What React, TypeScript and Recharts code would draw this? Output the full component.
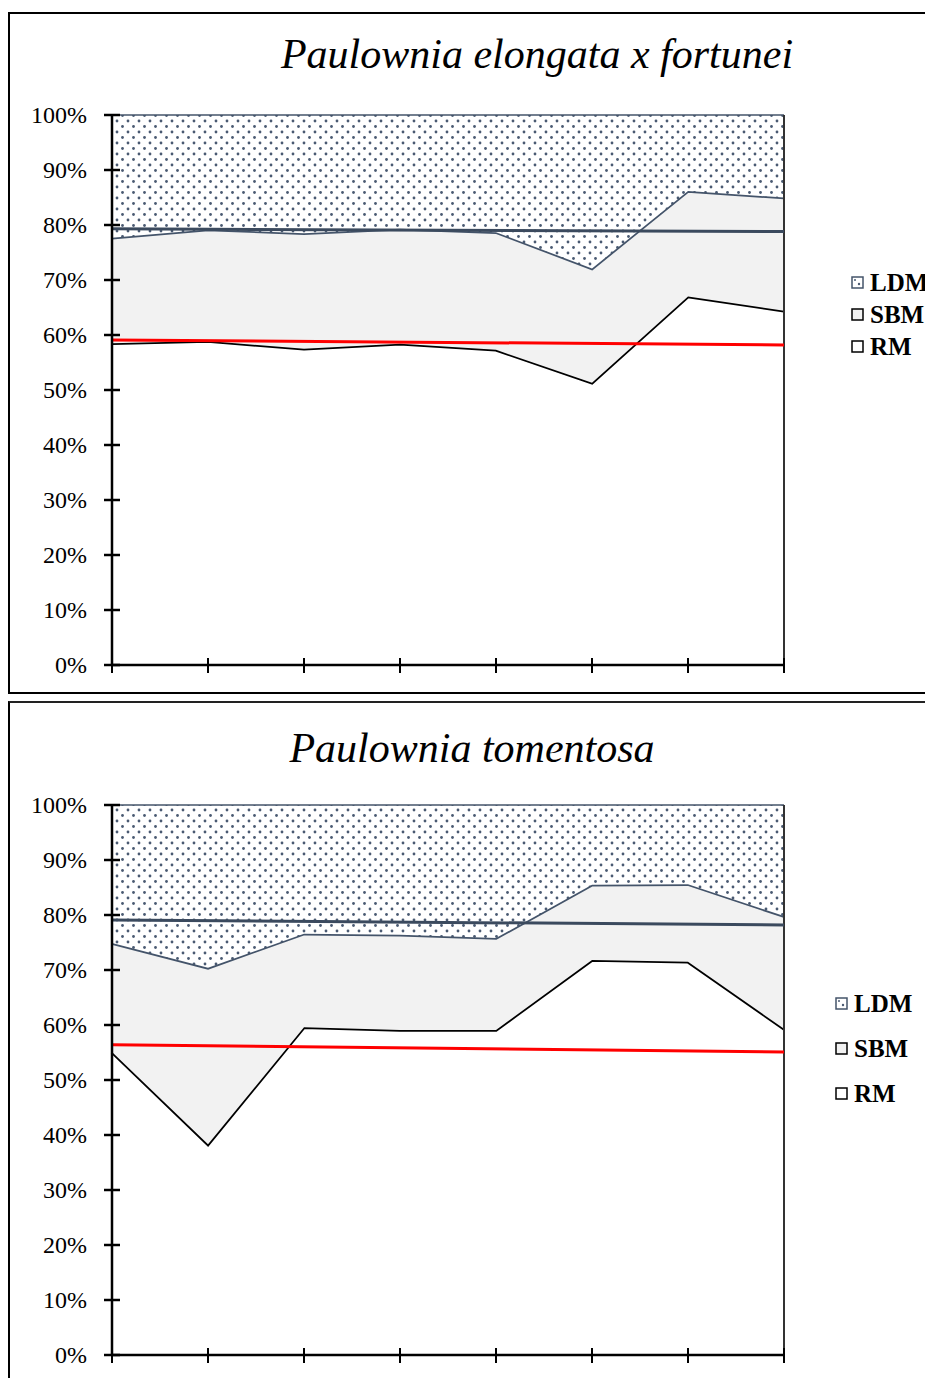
import { ComposedChart, Area, Line, XAxis, YAxis, ReferenceLine } from 'recharts';

// sample points along the x axis (no labels shown)
const points = ['1', '2', '3', '4', '5', '6', '7', '8'];
const yTicks = [0, 10, 20, 30, 40, 50, 60, 70, 80, 90, 100];

// Paulownia elongata x fortunei (% of total)
const elongataRM = [58.5, 58.9, 57.5, 58.4, 57.3, 51.3, 67.0, 64.4];
const elongataSBM = [19.2, 20.3, 21.0, 20.9, 21.4, 20.8, 19.2, 20.6];
const elongataLDM = [22.3, 20.8, 21.5, 20.7, 21.3, 27.9, 13.8, 15.0];
const elongataTrendTop = [79.3, null, null, null, null, null, null, 78.8];
const elongataTrendRM = [59.1, null, null, null, null, null, null, 58.2];

// Paulownia tomentosa (% of total)
const tomentosaRM = [55.1, 38.3, 59.6, 59.1, 59.1, 71.8, 71.5, 59.3];
const tomentosaSBM = [19.8, 32.1, 17.0, 17.3, 16.7, 13.7, 14.1, 20.5];
const tomentosaLDM = [25.1, 29.6, 23.4, 23.6, 24.2, 14.5, 14.4, 20.2];
const tomentosaTrendTop = [79.1, null, null, null, null, null, null, 78.2];
const tomentosaTrendRM = [56.4, null, null, null, null, null, null, 55.1];

const FONT = "'Liberation Serif', Tinos, 'Times New Roman', Times, serif";
const NAVY = '#44546a';

function buildRows(rm: number[], sbm: number[], ldm: number[], top: (number | null)[], low: (number | null)[]) {
    return points.map((p, i) => ({ name: p, RM: rm[i], SBM: sbm[i], LDM: ldm[i], trendTop: top[i], trendRM: low[i] }));
}

function YTick(props: any) {
    const { x, y, payload } = props;
    return (
        <g>
            <line x1={x - 8} x2={x + 8} y1={y} y2={y} stroke="#000" strokeWidth={2.5} />
            <text x={x - 25} y={y + 8} textAnchor="end" style={{ fontFamily: FONT }} fontSize={24} fill="#000">
                {payload.value}%
            </text>
        </g>
    );
}

function XTick(props: any) {
    const { x, y } = props;
    return <line x1={x} x2={x} y1={y - 7} y2={y + 8} stroke="#000" strokeWidth={2} />;
}

function DotPattern({ id }: { id: string }) {
    return (
        <pattern id={id} width={11} height={11} patternUnits="userSpaceOnUse">
            <rect width={11} height={11} fill="#fff" />
            <circle cx={2.5} cy={2.5} r={1.4} fill="#4a5a72" />
            <circle cx={8} cy={8} r={1.4} fill="#4a5a72" />
        </pattern>
    );
}

function Legend2({ left, top, gap, pid }: { left: number; top: number; gap: number; pid: string }) {
    const items = [
        { label: 'LDM', border: NAVY, fill: `url(#${pid}-leg)` },
        { label: 'SBM', border: '#000', fill: '#f2f2f2' },
        { label: 'RM', border: '#000', fill: '#fff' },
    ];
    return (
        <div style={{ position: 'absolute', left, top }}>
            {items.map((it, i) => (
                <div key={it.label} style={{ position: 'absolute', top: i * gap - 14, left: 0, display: 'flex', alignItems: 'center', height: 28, whiteSpace: 'nowrap' }}>
                    <svg width={13} height={13} style={{ marginRight: 6 }}>
                        <defs>
                            <pattern id={`${pid}-leg`} width={13} height={13} patternUnits="userSpaceOnUse">
                                <rect width={13} height={13} fill="#fff" />
                                <circle cx={4} cy={4} r={1} fill="#4a5a72" />
                                <circle cx={8} cy={8} r={1.2} fill="#4a5a72" />
                            </pattern>
                        </defs>
                        <rect x={1} y={1} width={11} height={11} fill={it.fill} stroke={it.border} strokeWidth={1.5} />
                    </svg>
                    <span style={{ fontFamily: FONT, fontWeight: 'bold', fontSize: 25, lineHeight: 1 }}>{it.label}</span>
                </div>
            ))}
        </div>
    );
}

type PanelProps = {
    title: string;
    rows: any[];
    pid: string;
    height: number;
    margin: { top: number; right: number; bottom: number; left: number };
    titleTop: number;
    titleCenter: number;
    legendLeft: number;
    legendTop: number;
    legendGap: number;
};

function Panel({ title, rows, pid, height, margin, titleTop, titleCenter, legendLeft, legendTop, legendGap }: PanelProps) {
    return (
        <>
            <div style={{ position: 'absolute', left: titleCenter - 400, width: 800, top: titleTop, textAlign: 'center', fontFamily: FONT, fontStyle: 'italic', fontSize: 42, lineHeight: 1 }}>
                {title}
            </div>
            <div style={{ position: 'absolute', left: 0, top: 0 }}>
                <ComposedChart width={920} height={height} data={rows} margin={margin}>
                    <defs>
                        <DotPattern id={pid} />
                    </defs>
                    <XAxis dataKey="name" height={10} tickSize={0} tickMargin={0} tick={<XTick />} axisLine={{ stroke: '#000', strokeWidth: 2.5 }} tickLine={false} interval={0} />
                    <YAxis width={70} domain={[0, 100]} ticks={yTicks} tickSize={0} tickMargin={0} tick={<YTick />} axisLine={{ stroke: '#000', strokeWidth: 2.5 }} tickLine={false} interval={0} />
                    <Area type="linear" dataKey="RM" stackId="s" stroke="#000" strokeWidth={3.5} fill="#fff" fillOpacity={1} isAnimationActive={false} />
                    <Area type="linear" dataKey="SBM" stackId="s" stroke={NAVY} strokeWidth={3.5} fill="#f2f2f2" fillOpacity={1} isAnimationActive={false} />
                    <Area type="linear" dataKey="LDM" stackId="s" stroke={NAVY} strokeWidth={1.5} fill={`url(#${pid})`} fillOpacity={1} isAnimationActive={false} />
                    <ReferenceLine x="8" stroke="#333" strokeWidth={2} />
                    <Line type="linear" dataKey="trendTop" stroke="#3b4a5e" strokeWidth={3} dot={false} connectNulls isAnimationActive={false} />
                    <Line type="linear" dataKey="trendRM" stroke="#ff0000" strokeWidth={3} dot={false} connectNulls isAnimationActive={false} />
                </ComposedChart>
            </div>
            <Legend2 left={legendLeft} top={legendTop} gap={legendGap} pid={pid} />
        </>
    );
}

export default function App() {
    const rows1 = buildRows(elongataRM, elongataSBM, elongataLDM, elongataTrendTop, elongataTrendRM);
    const rows2 = buildRows(tomentosaRM, tomentosaSBM, tomentosaLDM, tomentosaTrendTop, tomentosaTrendRM);
    return (
        <div style={{ position: 'relative', width: 925, height: 1370, overflow: 'hidden' }}>
            <style>{`body { overflow: hidden; }`}</style>
            <div style={{ position: 'absolute', left: 0, top: 4, width: 960, height: 678, border: '2px solid #000', borderRight: 'none' }}>
                <Panel
                    title="Paulownia elongata x fortunei"
                    rows={rows1}
                    pid="dots1"
                    height={678}
                    margin={{ top: 101, right: 146, bottom: 17, left: 32 }}
                    titleTop={19}
                    titleCenter={527}
                    legendLeft={841}
                    legendTop={268}
                    legendGap={32}
                />
            </div>
            <div style={{ position: 'absolute', left: 0, top: 693, width: 921, height: 700, borderTop: '2px solid #222', borderLeft: '2px solid #000', borderRight: '1px solid #999' }}>
                <Panel
                    title="Paulownia tomentosa"
                    rows={rows2}
                    pid="dots2"
                    height={675}
                    margin={{ top: 102, right: 146, bottom: 13, left: 32 }}
                    titleTop={24}
                    titleCenter={462}
                    legendLeft={825}
                    legendTop={300}
                    legendGap={45}
                />
            </div>
        </div>
    );
}
